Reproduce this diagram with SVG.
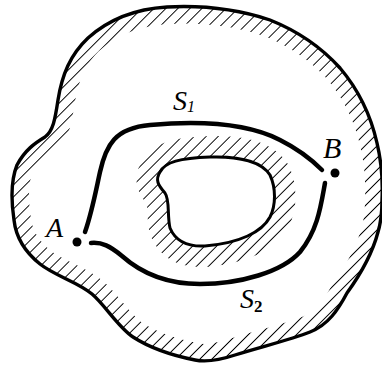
<svg xmlns="http://www.w3.org/2000/svg" width="382" height="368" viewBox="0 0 382 368">
<style>
.bd{fill:none;stroke:#000;stroke-linejoin:round;stroke-linecap:round}
.path{fill:none;stroke:#000;stroke-width:4.5;stroke-linecap:round}
.lbl{font-family:"Liberation Serif","Times New Roman",serif;font-style:italic;fill:#000}
.dot{fill:#000}
</style>
<defs>
<pattern id="hatch" width="8.5" height="8.5" patternUnits="userSpaceOnUse" patternTransform="rotate(45)">
<line x1="4.25" y1="0" x2="4.25" y2="8.5" stroke="#000" stroke-width="1"/>
</pattern>
<path id="outer" d="M 167,7 C 205,5 240,10 270,20 C 300,32 322,48 340,68 C 357,88 370,112 377,143 C 381,160 383,180 382,200 C 382,215 381,222 378,232 C 372,255 360,275 347,293 C 338,310 328,325 310,332 C 290,340 260,347 235,355 C 220,360 205,362 195,360 C 175,356 150,348 133,337 C 118,327 105,305 92,294 C 78,282 55,276 40,264 C 25,252 16,238 14,220 C 11,200 11,180 17,165 C 25,150 35,143 45,137 C 53,131 55,120 58,100 C 62,75 70,55 88,38 C 108,20 135,9 167,7 Z"/>
<path id="hole" d="M 160,172 C 165,162 180,158 210,157 C 240,156 262,162 270,175 C 276,188 276,205 270,217 C 262,232 240,243 205,246 C 185,247 175,240 170,228 C 167,215 170,200 165,193 C 158,185 155,180 160,172 Z"/>
<clipPath id="clipOuter"><use href="#outer"/></clipPath>
<mask id="maskOuter" maskUnits="userSpaceOnUse" x="0" y="0" width="382" height="368">
<rect width="382" height="368" fill="#000"/>
<use href="#outer" fill="none" stroke="#fff" stroke-width="34"/>
</mask>
<mask id="maskHole" maskUnits="userSpaceOnUse" x="0" y="0" width="382" height="368">
<rect width="382" height="368" fill="#000"/>
<use href="#hole" fill="none" stroke="#fff" stroke-width="42"/>
<use href="#hole" fill="#000"/>
</mask>
</defs>
<rect width="382" height="368" fill="#fff"/>
<g id="region">
<g clip-path="url(#clipOuter)">
<rect width="382" height="368" fill="url(#hatch)" mask="url(#maskOuter)"/>
</g>
<rect width="382" height="368" fill="url(#hatch)" mask="url(#maskHole)"/>
<use href="#outer" class="bd" stroke-width="3.4"/>
<use href="#hole" class="bd" stroke-width="3"/>
</g>
<g id="connectors">
<g id="S1">
<path class="path" d="M 85,232 C 92,212 96,190 100,172 C 106,145 115,128 150,125 C 195,121 245,122 280,140 C 298,149 312,160 322,170"/>
<text class="lbl" x="173" y="110" font-size="28">S<tspan font-size="16" dy="2">1</tspan></text>
</g>
<g id="S2">
<path class="path" d="M 325,183 C 321,205 318,230 300,252 C 282,272 240,284 200,284 C 165,284 140,272 122,256 C 110,246 102,242 91,243"/>
<text class="lbl" x="240" y="308" font-size="28">S<tspan font-size="17" font-style="normal" font-weight="bold" dy="4">2</tspan></text>
</g>
</g>
<g id="A">
<circle class="dot" cx="77" cy="242" r="4.5"/>
<text class="lbl" x="46" y="237" font-size="28">A</text>
</g>
<g id="B">
<circle class="dot" cx="335" cy="173" r="4.5"/>
<text class="lbl" x="323" y="158" font-size="30">B</text>
</g>
</svg>
